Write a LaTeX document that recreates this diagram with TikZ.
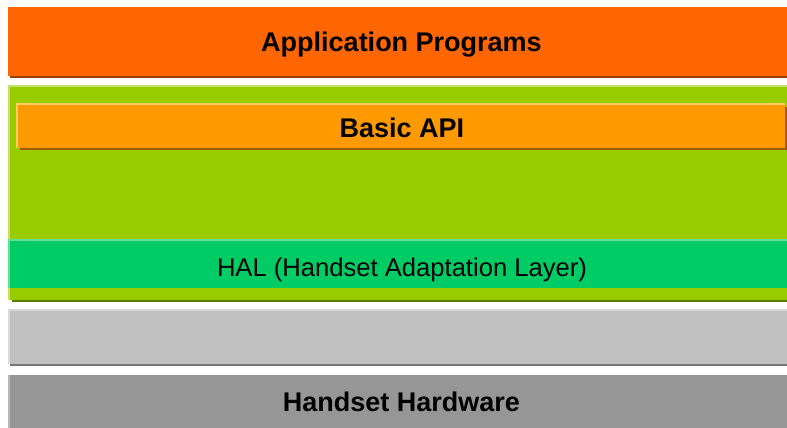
\documentclass[tikz,border=0pt]{standalone}
\usepackage{fontspec}
\setmainfont{Liberation Sans}
\usetikzlibrary{positioning}

\definecolor{appFill}{HTML}{FF6600}
\definecolor{appShade}{HTML}{A04000}
\definecolor{coreFill}{HTML}{99CC00}
\definecolor{coreLight}{HTML}{C4E26A}
\definecolor{coreShade}{HTML}{5C7A00}
\definecolor{apiFill}{HTML}{FF9900}
\definecolor{apiLight}{HTML}{FFCC66}
\definecolor{apiShade}{HTML}{A05A00}
\definecolor{halFill}{HTML}{00CC66}
\definecolor{halLight}{HTML}{66DD99}
\definecolor{emptyFill}{HTML}{C0C0C0}
\definecolor{emptyLight}{HTML}{D9D9D9}
\definecolor{emptyShade}{HTML}{777777}
\definecolor{hwFill}{HTML}{969696}
\definecolor{hwLight}{HTML}{B8B8B8}

\begin{document}
\begin{tikzpicture}[
    x=1pt,y=-1pt,
    layer/.style={rectangle,inner sep=0,outer sep=0,anchor=north west,fill=#1},
    caption/.style={inner sep=0,text height=19.3pt,text depth=0pt,font=\fontsize{27}{30}\selectfont\bfseries},
    plain caption/.style={inner sep=0,text height=18.3pt,text depth=0pt,font=\fontsize{25.6}{28}\selectfont},
  ]
\useasboundingbox (0,0) rectangle (787,428);

% application layer
\node (app) [layer=appFill,minimum width=779pt,minimum height=69pt] at (8,7) {};
\fill[appShade] ([xshift=2pt]app.south west) rectangle ([yshift=-2pt]app.south east);
\node (app label) [caption,right=4pt of app.center,anchor=center] {Application Programs};

% middleware block
\node (core) [layer=coreFill,minimum width=779pt,minimum height=215pt] at (8,85) {};
\fill[coreShade] ([xshift=4pt]core.south west) rectangle ([yshift=-2pt]core.south east);
\fill[coreLight] (core.north west) rectangle ([yshift=-2pt]core.north east);
\fill[coreLight] (core.north west) rectangle ([xshift=2pt]core.south west);

\node (api) [layer=apiFill,minimum width=769pt,minimum height=45pt] at (16,103) {};
\fill[apiShade] ([xshift=4pt]api.south west) rectangle ([xshift=2pt,yshift=-2pt]api.south east);
\fill[apiShade] ([yshift=-4pt]api.north east) rectangle ([xshift=2pt]api.south east);
\fill[apiLight] (api.north west) rectangle ([yshift=-2pt]api.north east);
\fill[apiLight] (api.north west) rectangle ([xshift=2pt]api.south west);
\node (api label) [caption,anchor=center] at ([xshift=1.5pt,yshift=-2.5pt]api.center) {Basic API};

\node (hal) [layer=halFill,minimum width=779pt,minimum height=49pt] at (8,239) {};
\fill[halLight] (hal.north west) rectangle ([yshift=-2pt]hal.north east);
\fill[halLight] (hal.north west) rectangle ([xshift=2pt]hal.south west);
\node (hal label) [plain caption,anchor=center] at ([xshift=4.5pt,yshift=-3.5pt]hal.center) {HAL (Handset Adaptation Layer)};

% empty layer
\node (empty) [layer=emptyFill,minimum width=779pt,minimum height=55pt] at (8,309) {};
\fill[emptyShade] ([xshift=2pt]empty.south west) rectangle ([yshift=-2pt]empty.south east);
\fill[emptyLight] (empty.north west) rectangle ([yshift=-2pt]empty.north east);
\fill[emptyLight] (empty.north west) rectangle ([xshift=2pt]empty.south west);

% hardware
\node (hw) [layer=hwFill,minimum width=779pt,minimum height=53pt] at (8,375) {};
\fill[hwLight] (hw.north west) rectangle ([xshift=2pt]hw.south west);
\node (hw label) [caption,right=4pt of hw.center,anchor=center] {Handset Hardware};
\end{tikzpicture}
\end{document}
